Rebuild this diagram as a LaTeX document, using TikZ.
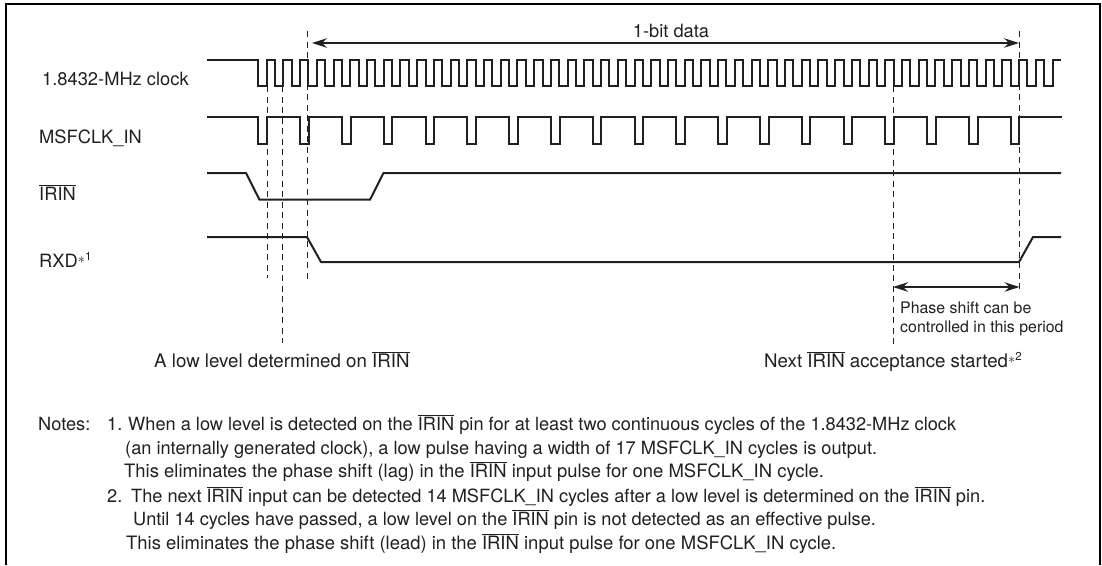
\documentclass[tikz,border=0pt]{standalone}
\usepackage{fontspec}
\setmainfont{TeX Gyre Heros}
\usetikzlibrary{arrows.meta}
\definecolor{inkdark}{HTML}{231F20}
\newcommand{\barred}[1]{$\overline{\mbox{#1}}$}
\newcommand{\starred}[1]{\raisebox{4pt}{\fontsize{15}{15}\selectfont$\ast$}\raisebox{6.5pt}{\fontsize{11.5}{12}\selectfont #1}}
\tikzset{
	wave/.style={line width=2pt, inkdark, line join=miter},
	guide/.style={line width=0.9pt, inkdark, dash pattern=on 6pt off 4.5pt},
	span/.style={line width=1.1pt, inkdark, <->, >={Stealth[length=15pt,width=9.5pt]}},
	sig/.style={anchor=base west, inner sep=0pt, text=inkdark, font=\fontsize{18.3}{20}\selectfont},
	tag/.style={sig, font=\fontsize{18.7}{20}\selectfont},
	note/.style={anchor=base west, inner sep=0pt, text=inkdark, font=\fontsize{18.2}{20}\selectfont},
	notewide/.style={note, font=\fontsize{18.45}{20}\selectfont},
	hint/.style={anchor=base west, inner sep=0pt, text=inkdark, font=\fontsize{15.9}{18}\selectfont},
}
\begin{document}
\begin{tikzpicture}[x=1pt, y=-1pt]
	\useasboundingbox (0,0) rectangle (1102,565);
	% frame, open at the bottom
	\draw[line width=2pt, black] (6,565) -- (6,4) -- (1099.5,4) -- (1099.5,565);
	% signal names
	\node[sig] (clkname) at (42,85) {1.8432-MHz clock};
	\node[sig] (msfname) at (39,143) {MSFCLK\_IN};
	\node[sig] (irinname) at (39,200) {\barred{IRIN}};
	\node[sig] (rxdname) at (39,267) {RXD\starred{1}};
	% waveforms
	\draw[wave] (207,60) foreach \n [evaluate=\n as \x using 258.3+\n*16.72] in {0,...,47} { -- (\x,60) -- (\x,86) -- (\x+8.36,86) -- (\x+8.36,60) } -- (1061,60);
	\draw[wave] (207,117) foreach \n [evaluate=\n as \x using 258.3+\n*41.8] in {0,...,18} { -- (\x,117) -- (\x,144) -- (\x+8.6,144) -- (\x+8.6,117) } -- (1062,117);
	\draw[wave] (207,173) -- (246,173) -- (259.5,199.7) -- (370,199.7) -- (383.5,173) -- (1061,173);
	\draw[wave] (207,237) -- (307,237) -- (321,262) -- (1019,262) -- (1033,237) -- (1061,237);
	% guide ends
	\coordinate (aTop) at (267,86);
	\coordinate (aEnd) at (267,278);
	\coordinate (bTop) at (282,86);
	\coordinate (bEnd) at (282,343);
	\coordinate (cTop) at (307,31);
	\coordinate (cEnd) at (307,279);
	\coordinate (dTop) at (893,86);
	\coordinate (dEnd) at (893,344);
	\coordinate (eTop) at (1019.5,31);
	\coordinate (eEnd) at (1019.5,291);
	\foreach \g in {a,b,c,d,e} { \draw[guide] (\g Top) -- (\g End); }
	% spans
	\coordinate (bitL) at (312,43);
	\coordinate (bitR) at (1019,43);
	\coordinate (phaseL) at (893,287);
	\coordinate (phaseR) at (1019.5,287);
	\draw[span] (bitL) -- (bitR);
	\draw[span] (phaseL) -- (phaseR);
	\node[sig, anchor=base] (bitlabel) at (671,37) {1-bit data};
	\node[hint] (phaseone) at (900,313) {Phase shift can be};
	\node[hint] (phasetwo) at (900,332) {controlled in this period};
	\node[tag] (lowlabel) at (154,367) {A low level determined on \barred{IRIN}};
	\node[tag] (nextlabel) at (764,367) {Next \barred{IRIN} acceptance started\starred{2}};
	% notes
	\node[note] (notes) at (38,430) {Notes:};
	\node[note] (nA) at (107,430) {1.};
	\node[note] (nAa) at (128,430) {When a low level is detected on the \barred{IRIN} pin for at least two continuous cycles of the 1.8432-MHz clock};
	\node[note] (nAb) at (125,454) {(an internally generated clock), a low pulse having a width of 17 MSFCLK\_IN cycles is output.};
	\node[notewide] (nAc) at (124,477) {This eliminates the phase shift (lag) in the \barred{IRIN} input pulse for one MSFCLK\_IN cycle.};
	\node[note] (nB) at (107,502) {2.};
	\node[note] (nBa) at (131,502) {The next \barred{IRIN} input can be detected 14 MSFCLK\_IN cycles after a low level is determined on the \barred{IRIN} pin.};
	\node[note] (nBb) at (133,525) {Until 14 cycles have passed, a low level on the \barred{IRIN} pin is not detected as an effective pulse.};
	\node[notewide] (nBc) at (126,549) {This eliminates the phase shift (lead) in the \barred{IRIN} input pulse for one MSFCLK\_IN cycle.};
\end{tikzpicture}
\end{document}
